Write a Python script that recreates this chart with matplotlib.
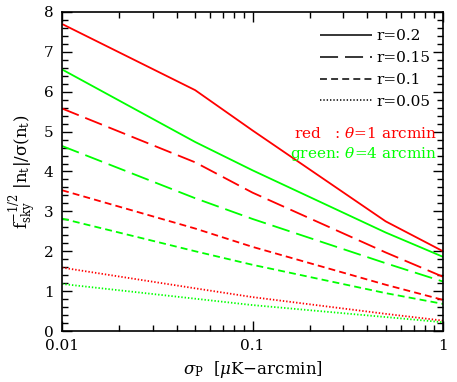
import numpy as np
import matplotlib
matplotlib.use("Agg")
import matplotlib.pyplot as plt
from matplotlib.lines import Line2D
from matplotlib.ticker import MultipleLocator, FixedLocator, NullFormatter

plt.rcParams['font.family'] = 'DejaVu Serif'
plt.rcParams['mathtext.fontset'] = 'dejavuserif'
plt.rcParams['lines.scale_dashes'] = False

# noise levels (muK-arcmin)
sigma_p = [0.01, 0.05, 0.1, 0.5, 1.0]

# red: theta = 1 arcmin
red_r020 = [7.70, 6.04, 5.03, 2.75, 2.00]
red_r015 = [5.58, 4.23, 3.47, 1.97, 1.36]
red_r010 = [3.53, 2.57, 2.11, 1.16, 0.78]
red_r005 = [1.59, 1.07, 0.85, 0.43, 0.26]

# green: theta = 4 arcmin
grn_r020 = [6.56, 4.74, 4.03, 2.47, 1.86]
grn_r015 = [4.64, 3.33, 2.81, 1.70, 1.24]
grn_r010 = [2.82, 2.00, 1.66, 0.95, 0.68]
grn_r005 = [1.18, 0.81, 0.65, 0.35, 0.22]

r_labels = ['r=0.2', 'r=0.15', 'r=0.1', 'r=0.05']
styles = [(0, ()), (0, (13, 5)), (0, (5, 3)), (0, (1, 1.4))]

fig = plt.figure(figsize=(4.57, 3.82), dpi=100)
ax = fig.add_axes([0.1357, 0.1335, 0.8337, 0.8351])

lw = 1.3
for ys, ls in zip([red_r020, red_r015, red_r010, red_r005], styles):
    ax.plot(sigma_p, ys, color='#ff0000', lw=lw, linestyle=ls)
for ys, ls in zip([grn_r020, grn_r015, grn_r010, grn_r005], styles):
    ax.plot(sigma_p, ys, color='#00ff00', lw=lw, linestyle=ls)

ax.set_xscale('log')
ax.set_xlim(0.01, 1)
ax.set_ylim(0, 8)

ax.xaxis.set_major_locator(FixedLocator([0.01, 0.1, 1]))
ax.set_xticklabels(['0.01', '0.1', '1'])
ax.xaxis.set_minor_locator(FixedLocator(
    [k * 10.0 ** e for e in (-2, -1) for k in range(2, 10)]))
ax.xaxis.set_minor_formatter(NullFormatter())
ax.yaxis.set_major_locator(MultipleLocator(1))
ax.yaxis.set_minor_locator(MultipleLocator(0.2))

ax.tick_params(which='both', direction='in', top=True, right=True,
               labelsize=11, width=1.0)
ax.tick_params(which='major', length=7.5, pad=6)
ax.tick_params(which='minor', length=4)
for s in ax.spines.values():
    s.set_linewidth(1.2)

ax.set_xlabel(r'$\sigma_{\rm P}$  [$\mu$K$-$arcmin]', fontsize=12, labelpad=4)
ax.set_ylabel(r'$\rm f_{sky}^{-1/2}\ |n_t|/\sigma(n_t)$', fontsize=12, labelpad=4)

handles = [Line2D([], [], color='black', lw=lw * 0.85, linestyle=ls) for ls in styles]
leg = ax.legend(handles, r_labels, loc='upper right', frameon=False,
                fontsize=11, handlelength=3.4, handletextpad=0.3,
                labelspacing=0.52, borderaxespad=0.4,
                bbox_to_anchor=(1.0, 0.985))

ax.text(0.985, 0.62, r'red   : $\theta$=1 arcmin', color='#ff0000',
        transform=ax.transAxes, ha='right', va='center', fontsize=11)
ax.text(0.985, 0.555, r'green: $\theta$=4 arcmin', color='#00ff00',
        transform=ax.transAxes, ha='right', va='center', fontsize=11)

fig.savefig('out.png', dpi=100)
